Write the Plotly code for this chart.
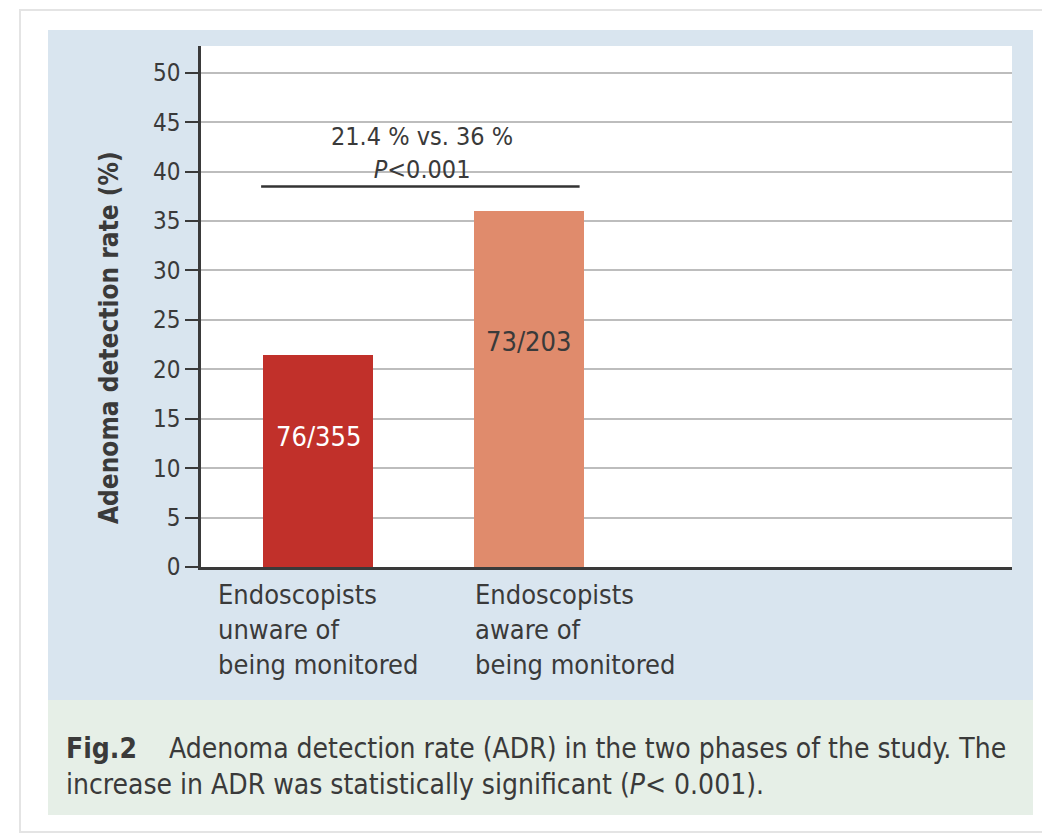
import plotly.graph_objects as go

# ---- data ----
categories = ["unaware", "aware"]
category_labels = [
    "Endoscopists<br>unware of<br>being monitored",
    "Endoscopists<br>aware of<br>being monitored",
]
adr_percent = [21.4, 36.0]
count_labels = ["76/355", "73/203"]
count_label_y = [13.2, 22.8]
comparison_text = "21.4 % vs. 36 %<br><i>P</i><0.001"
bracket_y = 38.5
y_ticks = [0, 5, 10, 15, 20, 25, 30, 35, 40, 45, 50]
y_title = "<b>Adenoma detection rate (%)</b>"
caption = ("<b>Fig.2</b>    Adenoma detection rate (ADR) in the two phases of the study. The<br>"
           "increase in ADR was statistically significant (<i>P</i>< 0.001).")

bar_colors = ["#c1302a", "#e08b6c"]
FONT = "DejaVu Sans Condensed, Liberation Sans Narrow, sans-serif"
TXT = "#3a3a3a"

OFF = 8  # page body margin
W, H = 1050 - OFF, 838 - OFF
# plot area in screen pixels
L, R, T, B = 201, 1012, 46, 567
pw, ph = R - L, B - T

def px(x):
    return (x - L) / pw

def py(y):
    return (B - y) / ph

xpos = list(range(len(categories)))
bar_w = 0.52

fig = go.Figure()
fig.add_trace(go.Bar(
    x=xpos, y=adr_percent, width=bar_w,
    marker=dict(color=bar_colors, line=dict(width=0)),
    hoverinfo="skip", showlegend=False,
))

shapes = [
    dict(type="rect", xref="paper", yref="paper", x0=px(20), x1=px(1046), y0=py(10), y1=py(832),
         fillcolor="white", line=dict(color="#e4e4e4", width=2), layer="below"),
    dict(type="rect", xref="paper", yref="paper", x0=px(48), x1=px(1033), y0=py(30), y1=py(700),
         fillcolor="#d9e5ef", line=dict(width=0), layer="below"),
    dict(type="rect", xref="paper", yref="paper", x0=px(48), x1=px(1033), y0=py(700), y1=py(815),
         fillcolor="#e6efe7", line=dict(width=0), layer="below"),
    dict(type="rect", xref="paper", yref="paper", x0=0, x1=1, y0=0, y1=1,
         fillcolor="white", line=dict(width=0), layer="below"),
    dict(type="line", xref="x", yref="y", x0=xpos[0] - bar_w / 2 - 0.01, x1=xpos[1] + bar_w / 2 - 0.02,
         y0=bracket_y, y1=bracket_y, line=dict(color="#333333", width=2.5)),
]

annotations = []
for i, (lab, yy) in enumerate(zip(count_labels, count_label_y)):
    annotations.append(dict(x=xpos[i], y=yy, xref="x", yref="y", text=lab, showarrow=False,
                            font=dict(family=FONT, size=27, color="white" if i == 0 else TXT)))
annotations.append(dict(x=(xpos[0] + xpos[1]) / 2 - 0.005, y=bracket_y, xref="x", yref="y", yanchor="bottom",
                        yshift=0, text=comparison_text, showarrow=False, align="center",
                        font=dict(family=FONT, size=25, color=TXT)))
cat_x_px = [216, 473]
for lab, xp in zip(category_labels, cat_x_px):
    annotations.append(dict(x=px(xp), y=py(577), xref="paper", yref="paper", xanchor="left", yanchor="top",
                            text=lab, showarrow=False, align="left",
                            font=dict(family=FONT, size=27, color=TXT)))
annotations.append(dict(x=px(92), y=py(338), xref="paper", yref="paper", text=y_title, textangle=-90,
                        showarrow=False, font=dict(family=FONT, size=26, color=TXT)))
annotations.append(dict(x=px(64), y=py(730), xref="paper", yref="paper", xanchor="left", yanchor="top",
                        text=caption, showarrow=False, align="left",
                        font=dict(family=FONT, size=28, color=TXT)))

fig.update_layout(
    width=W, height=H,
    margin=dict(l=L - OFF, r=W - (R - OFF), t=T - OFF, b=H - (B - OFF), pad=0),
    paper_bgcolor="white", plot_bgcolor="rgba(0,0,0,0)",
    shapes=shapes, annotations=annotations,
    bargap=0,
    xaxis=dict(range=[-0.555, 3.29], showticklabels=False, ticks="", showgrid=False, zeroline=False,
               showline=True, linecolor="#3a3a3a", linewidth=2.5, fixedrange=True),
    yaxis=dict(range=[0, 52.7], tickvals=y_ticks, ticks="outside", ticklen=13, tickwidth=2,
               tickcolor="#3a3a3a", showline=True, linecolor="#3a3a3a", linewidth=2.5,
               showgrid=True, gridcolor="#bdbdbd", gridwidth=2, zeroline=False,
               tickfont=dict(family=FONT, size=24, color=TXT), fixedrange=True),
)

fig.write_html("out.html")
